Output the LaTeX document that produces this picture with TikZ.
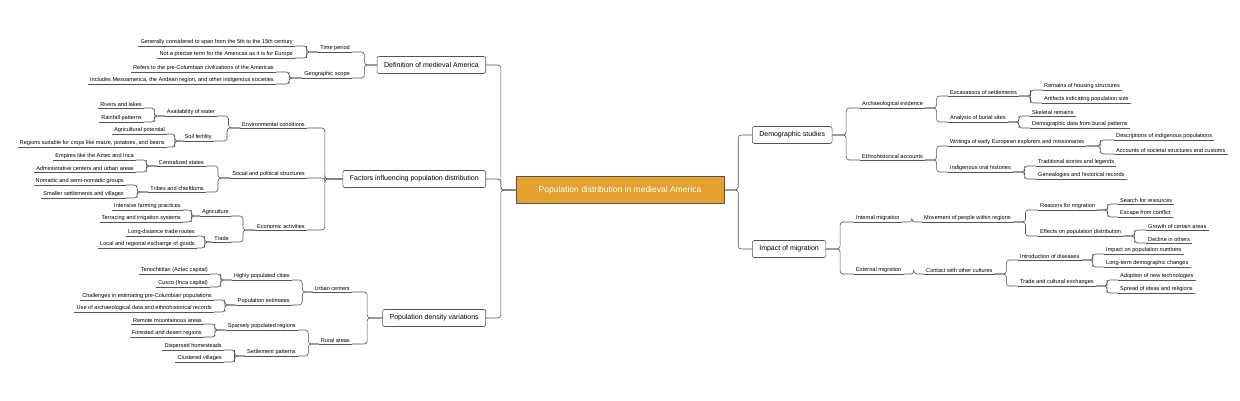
\documentclass[tikz,border=0pt]{standalone}
\usepackage{fontspec}
\setmainfont{Liberation Sans}
\definecolor{rootfill}{HTML}{E3A22F}
\definecolor{linegray}{HTML}{555555}
\tikzset{
  link/.style={draw=linegray,line width=0.6pt,rounded corners=3pt,
    to path={-| ($(\tikztostart)!.5!(\tikztotarget)$) |- (\tikztotarget)}},
  leaf/.style={font=\fontsize{5.6}{6}\selectfont,inner xsep=2pt,inner ysep=1.2pt,
    append after command={(\tikzlastnode.south west) edge[draw=linegray,line width=0.6pt] (\tikzlastnode.south east)}},
  topic/.style={draw=linegray,fill=white,rounded corners=2pt,line width=0.6pt,
    font=\fontsize{7}{8}\selectfont,minimum height=17pt,inner xsep=7pt},
  root/.style={draw=linegray,fill=rootfill,text=white,line width=0.8pt,
    font=\fontsize{8.5}{10}\selectfont,minimum height=27pt,minimum width=208pt}
}
\usetikzlibrary{calc}
\begin{document}
\begin{tikzpicture}[x=1pt,y=-1pt]
\useasboundingbox (0,0) rectangle (1240,400);
\node[root] (root) at (620,190) {Population distribution in medieval America};
% left topics
\node[topic,anchor=east] (def) at (486,65) {Definition of medieval America};
\node[topic,anchor=east] (fac) at (486,179) {Factors influencing population distribution};
\node[topic,anchor=east] (den) at (486,318) {Population density variations};
% right topics
\node[topic,anchor=west] (dem) at (752,135) {Demographic studies};
\node[topic,anchor=west] (mig) at (752,249) {Impact of migration};
\foreach \t in {def,fac,den} \draw[link] (root.west) to (\t.east);
\foreach \t in {dem,mig} \draw[link] (root.east) to (\t.west);

% definition
\node[leaf,anchor=south east] (tp) at (352,52) {Time period};
\node[leaf,anchor=south east] (gs) at (352,78) {Geographic scope};
\node[leaf,anchor=south east] (tp1) at (295,46) {Generally considered to span from the 5th to the 15th century};
\node[leaf,anchor=south east] (tp2) at (295,58) {Not a precise term for the Americas as it is for Europe};
\node[leaf,anchor=south east] (gs1) at (276,72) {Refers to the pre-Columbian civilizations of the Americas};
\node[leaf,anchor=south east] (gs2) at (276,84) {Includes Mesoamerica, the Andean region, and other indigenous societies};
\foreach \c in {tp,gs} \draw[link] (\c.south east) to (def.west);
\foreach \c in {tp1,tp2} \draw[link] (\c.south east) to (tp.south west);
\foreach \c in {gs1,gs2} \draw[link] (\c.south east) to (gs.south west);

% factors
\node[leaf,anchor=south east] (env) at (307,128) {Environmental conditions};
\node[leaf,anchor=south east] (soc) at (307,178) {Social and political structures};
\node[leaf,anchor=south east] (eco) at (307,230) {Economic activities};
\foreach \c in {env,soc,eco} \draw[link] (\c.south east) to (fac.west);
\node[leaf,anchor=south east] (wat) at (217,116) {Availability of water};
\node[leaf,anchor=south east] (soil) at (214,141) {Soil fertility};
\foreach \c in {wat,soil} \draw[link] (\c.south east) to (env.south west);
\node[leaf,anchor=south east] (riv) at (144,108) {Rivers and lakes};
\node[leaf,anchor=south east] (rain) at (144,122) {Rainfall patterns};
\node[leaf,anchor=south east] (agp) at (167,134) {Agricultural potential};
\node[leaf,anchor=south east] (crop) at (167,147) {Regions suitable for crops like maize, potatoes, and beans};
\foreach \c in {riv,rain} \draw[link] (\c.south east) to (wat.south west);
\foreach \c in {agp,crop} \draw[link] (\c.south east) to (soil.south west);
\node[leaf,anchor=south east] (cen) at (206,166) {Centralized states};
\node[leaf,anchor=south east] (tri) at (206,192) {Tribes and chiefdoms};
\foreach \c in {cen,tri} \draw[link] (\c.south east) to (soc.south west);
\node[leaf,anchor=south east] (emp) at (136,160) {Empires like the Aztec and Inca};
\node[leaf,anchor=south east] (adm) at (136,172) {Administrative centers and urban areas};
\node[leaf,anchor=south east] (nom) at (126,185) {Nomadic and semi-nomadic groups};
\node[leaf,anchor=south east] (sma) at (126,198) {Smaller settlements and villages};
\foreach \c in {emp,adm} \draw[link] (\c.south east) to (cen.south west);
\foreach \c in {nom,sma} \draw[link] (\c.south east) to (tri.south west);
\node[leaf,anchor=south east] (agr) at (231,216) {Agriculture};
\node[leaf,anchor=south east] (tra) at (231,242) {Trade};
\foreach \c in {agr,tra} \draw[link] (\c.south east) to (eco.south west);
\node[leaf,anchor=south east] (int) at (183,210) {Intensive farming practices};
\node[leaf,anchor=south east] (ter) at (183,222) {Terracing and irrigation systems};
\node[leaf,anchor=south east] (ldt) at (197,236) {Long-distance trade routes};
\node[leaf,anchor=south east] (loc) at (197,248) {Local and regional exchange of goods};
\foreach \c in {int,ter} \draw[link] (\c.south east) to (agr.south west);
\foreach \c in {ldt,loc} \draw[link] (\c.south east) to (tra.south west);

% density
\node[leaf,anchor=south east] (urb) at (352,292) {Urban centers};
\node[leaf,anchor=south east] (rur) at (352,344) {Rural areas};
\foreach \c in {urb,rur} \draw[link] (\c.south east) to (den.west);
\node[leaf,anchor=south east] (hpc) at (292,280) {Highly populated cities};
\node[leaf,anchor=south east] (pes) at (292,305) {Population estimates};
\foreach \c in {hpc,pes} \draw[link] (\c.south east) to (urb.south west);
\node[leaf,anchor=south east] (ten) at (210,274) {Tenochtitlan (Aztec capital)};
\node[leaf,anchor=south east] (cus) at (210,287) {Cusco (Inca capital)};
\node[leaf,anchor=south east] (cha) at (214,300) {Challenges in estimating pre-Columbian populations};
\node[leaf,anchor=south east] (use) at (214,312) {Use of archaeological data and ethnohistorical records};
\foreach \c in {ten,cus} \draw[link] (\c.south east) to (hpc.south west);
\foreach \c in {cha,use} \draw[link] (\c.south east) to (pes.south west);
\node[leaf,anchor=south east] (spr) at (298,330) {Sparsely populated regions};
\node[leaf,anchor=south east] (set) at (298,356) {Settlement patterns};
\foreach \c in {spr,set} \draw[link] (\c.south east) to (rur.south west);
\node[leaf,anchor=south east] (rem) at (204,324) {Remote mountainous areas};
\node[leaf,anchor=south east] (for) at (204,337) {Forested and desert regions};
\node[leaf,anchor=south east] (dis) at (224,350) {Dispersed homesteads};
\node[leaf,anchor=south east] (clu) at (224,362) {Clustered villages};
\foreach \c in {rem,for} \draw[link] (\c.south east) to (spr.south west);
\foreach \c in {dis,clu} \draw[link] (\c.south east) to (set.south west);

% demographic studies
\node[leaf,anchor=south west] (arc) at (860,108) {Archaeological evidence};
\node[leaf,anchor=south west] (eth) at (860,160) {Ethnohistorical accounts};
\foreach \c in {arc,eth} \draw[link] (dem.east) to (\c.south west);
\node[leaf,anchor=south west] (exc) at (948,96) {Excavations of settlements};
\node[leaf,anchor=south west] (bur) at (948,122) {Analysis of burial sites};
\foreach \c in {exc,bur} \draw[link] (arc.south east) to (\c.south west);
\node[leaf,anchor=south west] (hou) at (1042,90) {Remains of housing structures};
\node[leaf,anchor=south west] (art) at (1042,103) {Artifacts indicating population size};
\node[leaf,anchor=south west] (ske) at (1030,116) {Skeletal remains};
\node[leaf,anchor=south west] (ddb) at (1030,128) {Demographic data from burial patterns};
\foreach \c in {hou,art} \draw[link] (exc.south east) to (\c.south west);
\foreach \c in {ske,ddb} \draw[link] (bur.south east) to (\c.south west);
\node[leaf,anchor=south west] (wri) at (948,146) {Writings of early European explorers and missionaries};
\node[leaf,anchor=south west] (ora) at (948,172) {Indigenous oral histories};
\foreach \c in {wri,ora} \draw[link] (eth.south east) to (\c.south west);
\node[leaf,anchor=south west] (des) at (1114,140) {Descriptions of indigenous populations};
\node[leaf,anchor=south west] (acc) at (1114,154) {Accounts of societal structures and customs};
\node[leaf,anchor=south west] (trs) at (1036,166) {Traditional stories and legends};
\node[leaf,anchor=south west] (gen) at (1036,179) {Genealogies and historical records};
\foreach \c in {des,acc} \draw[link] (wri.south east) to (\c.south west);
\foreach \c in {trs,gen} \draw[link] (ora.south east) to (\c.south west);

% migration
\node[leaf,anchor=south west] (inm) at (854,222) {Internal migration};
\node[leaf,anchor=south west] (exm) at (854,274) {External migration};
\foreach \c in {inm,exm} \draw[link] (mig.east) to (\c.south west);
\node[leaf,anchor=south west] (mov) at (922,222) {Movement of people within regions};
\node[leaf,anchor=south west] (con) at (924,274) {Contact with other cultures};
\draw[link] (inm.south east) to (mov.south west);
\draw[link] (exm.south east) to (con.south west);
\node[leaf,anchor=south west] (rea) at (1038,210) {Reasons for migration};
\node[leaf,anchor=south west] (eff) at (1038,236) {Effects on population distribution};
\foreach \c in {rea,eff} \draw[link] (mov.south east) to (\c.south west);
\node[leaf,anchor=south west] (sea) at (1118,204) {Search for resources};
\node[leaf,anchor=south west] (esc) at (1118,217) {Escape from conflict};
\node[leaf,anchor=south west] (gro) at (1146,230) {Growth of certain areas};
\node[leaf,anchor=south west] (dec) at (1146,243) {Decline in others};
\foreach \c in {sea,esc} \draw[link] (rea.south east) to (\c.south west);
\foreach \c in {gro,dec} \draw[link] (eff.south east) to (\c.south west);
\node[leaf,anchor=south west] (dsz) at (1018,260) {Introduction of diseases};
\node[leaf,anchor=south west] (tce) at (1018,286) {Trade and cultural exchanges};
\foreach \c in {dsz,tce} \draw[link] (con.south east) to (\c.south west);
\node[leaf,anchor=south west] (imp) at (1104,254) {Impact on population numbers};
\node[leaf,anchor=south west] (ltd) at (1104,267) {Long-term demographic changes};
\node[leaf,anchor=south west] (ado) at (1118,280) {Adoption of new technologies};
\node[leaf,anchor=south west] (spi) at (1118,293) {Spread of ideas and religions};
\foreach \c in {imp,ltd} \draw[link] (dsz.south east) to (\c.south west);
\foreach \c in {ado,spi} \draw[link] (tce.south east) to (\c.south west);
\end{tikzpicture}
\end{document}
